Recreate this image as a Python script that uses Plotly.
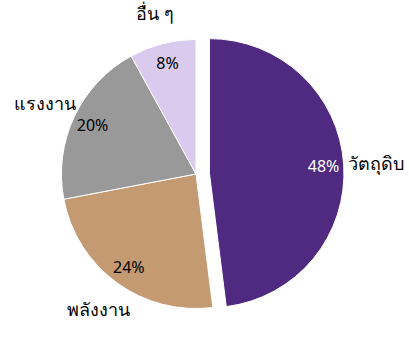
import math
import plotly.graph_objects as go

labels = ["วัตถุดิบ", "พลังงาน", "แรงงาน", "อื่น ๆ"]
values = [48, 24, 20, 8]
colors = ["#502A80", "#C49A72", "#999999", "#DACBEE"]
pct_colors = ["white", "black", "black", "black"]
pulls = [0.1, 0, 0, 0]

font_family = "Noto Sans, Tahoma, sans-serif"
W, H = 409, 340
dom_x = [48 / W, 344 / W]
dom_y = [1 - 322 / H, 1 - 26 / H]
label_gap = 32  # distance (px) from slice edge to label centre

fig = go.Figure()
fig.add_trace(go.Pie(
    labels=labels, values=values, sort=False, direction="clockwise", rotation=0,
    pull=pulls, domain=dict(x=dom_x, y=dom_y),
    marker=dict(colors=colors, line=dict(color="white", width=1)),
    textinfo="none",
    showlegend=False, hoverinfo="skip",
))
fig.add_trace(go.Pie(
    labels=labels, values=values, sort=False, direction="clockwise", rotation=0,
    pull=pulls, hole=0.7, domain=dict(x=dom_x, y=dom_y),
    marker=dict(colors=["rgba(0,0,0,0)"] * 4, line=dict(width=0)),
    textinfo="percent", textposition="inside", insidetextorientation="horizontal",
    insidetextfont=dict(family=font_family, size=16, color=pct_colors),
    showlegend=False, hoverinfo="skip",
))

# category labels placed just outside each slice, along its bisector
pw = (dom_x[1] - dom_x[0]) * W
ph = (dom_y[1] - dom_y[0]) * H
cx = (dom_x[0] + dom_x[1]) / 2 * W
cy = (1 - (dom_y[0] + dom_y[1]) / 2) * H
r = min(pw, ph) / 2 / (1 + max(pulls))
total = sum(values)
cum = 0
for lab, v, p in zip(labels, values, pulls):
    theta = 2 * math.pi * (cum + v / 2) / total
    cum += v
    s, c = math.sin(theta), math.cos(theta)
    dist = r * (1 + p) + label_gap
    x_px = cx + s * dist
    y_px = cy - c * dist
    fig.add_annotation(
        x=x_px / W, y=1 - y_px / H, xref="paper", yref="paper",
        text=lab, showarrow=False, xanchor="center", yanchor="middle",
        font=dict(family=font_family, size=18, color="black"),
    )

fig.update_layout(
    width=W, height=H,
    margin=dict(l=0, r=0, t=0, b=0),
    paper_bgcolor="white", plot_bgcolor="white",
    font=dict(family=font_family, size=16, color="black"),
)
fig.write_html("out.html")
